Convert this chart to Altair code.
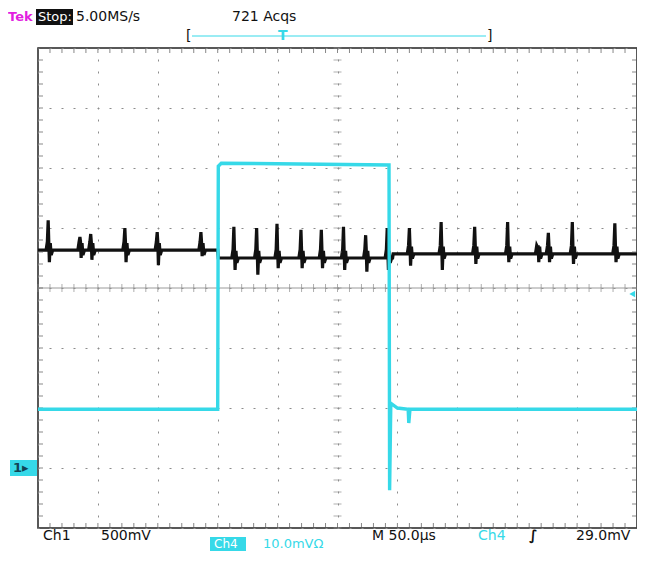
import altair as alt
import pandas as pd

# ---------------- data (screen divisions: x 0..10 div at 50 us/div, y -4..4 div) -------------
# Ch1 (black) spikes
spike_x = [0.17, 0.70, 0.88, 1.45, 1.99, 2.72, 3.27, 3.65, 3.99, 4.39, 4.73,
           5.10, 5.47, 5.83, 6.20, 6.73, 7.29, 7.84, 8.34, 8.52, 8.92, 9.63]
spike_top = [1.13, 0.85, 0.90, 1.00, 0.93, 0.93, 1.02, 1.00, 1.07, 0.97, 0.97,
             1.02, 0.88, 1.00, 1.00, 1.10, 1.02, 1.10, 0.68, 0.92, 1.10, 1.08]
spike_dip = [0.43, 0.50, 0.47, 0.43, 0.38, 0.53, 0.30, 0.22, 0.33, 0.33, 0.33,
             0.30, 0.27, 0.30, 0.37, 0.30, 0.40, 0.43, 0.43, 0.43, 0.40, 0.43]
base_start = [0.0, 3.01, 5.93]
base_end = [3.0, 5.92, 10.0]
base_level = [0.63, 0.50, 0.57]

# Ch4 (cyan) waveform corners
cyan_x = [0.0, 3.00, 3.01, 3.06, 5.86, 5.87, 5.89, 6.00, 6.18, 6.19, 6.21, 10.0]
cyan_y = [-2.02, -2.02, 2.03, 2.08, 2.05, -3.37, -1.92, -2.00, -2.02, -2.25, -2.02, -2.02]

trig_level = [-0.10]   # Ch4 trigger level marker (div)
gnd_level = [-3.0]     # ground marker (div)

minor_x = [round(0.2 * k, 2) for k in range(51)]
minor_y = [round(-4 + 0.2 * k, 2) for k in range(41)]

# ---------------- build tables ----------------
def base_at(x):
    lvl = base_level[0]
    for s, l in zip(base_start, base_level):
        if x >= s:
            lvl = l
    return lvl

pts = []
for s, e, l in zip(base_start, base_end, base_level):
    pts += [(s, l), (e, l)]
for s, t, d in zip(spike_x, spike_top, spike_dip):
    b = base_at(s)
    pts += [(s - 0.035, b), (s - 0.014, b + 0.14), (s, t), (s + 0.01, b + 0.14),
            (s + 0.02, d), (s + 0.035, b + 0.12), (s + 0.05, b - 0.08), (s + 0.075, b)]
pts.sort()
ch1 = pd.DataFrame({"x": [p[0] for p in pts], "y": [p[1] for p in pts], "i": range(len(pts))})
ch4 = pd.DataFrame({"x": cyan_x, "y": cyan_y, "i": range(len(cyan_x))})

W, H = 599, 480
FONT = "DejaVu Sans"
CYAN = "#36d9e8"
GRID = "#8c8c8c"

xs = alt.Scale(domain=[0, 10], nice=False, zero=False)
ys = alt.Scale(domain=[-4, 4], nice=False, zero=False)
ax_x = alt.Axis(values=list(range(11)), grid=True, gridDash=[2, 10], gridDashOffset=1,
                gridColor=GRID, labels=False, ticks=False, domain=False, title=None)
ax_y = alt.Axis(values=list(range(-4, 5)), grid=True, gridDash=[2, 10], gridDashOffset=1,
                gridColor=GRID, labels=False, ticks=False, domain=False, title=None)

black = alt.Chart(ch1).mark_line(color="#111111", strokeWidth=3.2, clip=True,
                                 strokeJoin="miter").encode(
    x=alt.X("x:Q", scale=xs, axis=ax_x),
    y=alt.Y("y:Q", scale=ys, axis=ax_y),
    order="i:Q",
)
cyan = alt.Chart(ch4).mark_line(color=CYAN, strokeWidth=3.4, clip=True).encode(
    x="x:Q", y="y:Q", order="i:Q"
)

one = pd.DataFrame({"v": [0]})
hcenter = alt.Chart(one).mark_rule(color="#9a9a9a", strokeWidth=1).encode(y=alt.datum(0))

mx = pd.DataFrame({"x": minor_x})
my = pd.DataFrame({"y": minor_y})
tick_h = alt.Chart(mx).mark_tick(orient="vertical", size=8, thickness=1, color=GRID).encode(
    x="x:Q", y=alt.datum(0))
tick_v = alt.Chart(my).mark_tick(orient="horizontal", size=8, thickness=1, color=GRID).encode(
    y="y:Q", x=alt.datum(5))
b_top = alt.Chart(mx).mark_tick(orient="vertical", size=10, thickness=1, color="#555", clip=True).encode(
    x="x:Q", y=alt.datum(4))
b_bot = alt.Chart(mx).mark_tick(orient="vertical", size=10, thickness=1, color="#555", clip=True).encode(
    x="x:Q", y=alt.datum(-4))
b_left = alt.Chart(my).mark_tick(orient="horizontal", size=10, thickness=1, color="#555", clip=True).encode(
    y="y:Q", x=alt.datum(0))
b_right = alt.Chart(my).mark_tick(orient="horizontal", size=10, thickness=1, color="#555", clip=True).encode(
    y="y:Q", x=alt.datum(10))

trig = alt.Chart(pd.DataFrame({"y": trig_level})).mark_point(
    shape="triangle-left", filled=True, size=45, color=CYAN, opacity=1).encode(
    y="y:Q", x=alt.datum(9.92))

def txt(s, x, y, color="#111111", size=14, weight="normal", align="left"):
    return alt.Chart(one).mark_text(text=s, align=align, baseline="middle", font=FONT,
                                    fontSize=size, fontWeight=weight, color=color).encode(
        x=alt.value(x), y=alt.value(y))

def box(x1, x2, y1, y2, color):
    return alt.Chart(one).mark_rect(color=color).encode(
        x=alt.value(x1), x2=alt.value(x2), y=alt.value(y1), y2=alt.value(y2))

gnd_y = H / 2 - gnd_level[0] * H / 8
HY = -31
texts = [
    txt("Tek", -30, HY, color="#e21fe0", size=13, weight="bold"),
    box(-2, 35, HY - 8, HY + 8, "#111111"),
    txt("Stop:", 0, HY, color="#ffffff", size=13),
    txt("5.00MS/s", 38, HY),
    txt("721 Acqs", 194, HY),
    alt.Chart(one).mark_rule(color=CYAN, strokeWidth=1).encode(
        x=alt.value(154), x2=alt.value(448), y=alt.value(-12)),
    txt("[", 148, -12),
    txt("]", 449, -12),
    txt("T", 240, -12, color=CYAN, weight="bold"),
    txt("Ch1", 5, 488),
    txt("500mV", 63, 488),
    txt("M 50.0µs", 334, 488),
    txt("Ch4", 440, 488, color=CYAN),
    txt("∫", 491, 488, weight="bold"),
    txt("29.0mV", 538, 488),
    box(172, 208, 489, 503, CYAN),
    txt("Ch4", 176, 496, color="#ffffff", size=12),
    txt("10.0mVΩ", 225, 496, color=CYAN, size=13),
    box(-28, -1, gnd_y - 8, gnd_y + 8, CYAN),
    txt("1▸", -25, gnd_y, color="#114455", size=13, weight="bold"),
]

chart = alt.layer(
    black, hcenter, tick_h, tick_v, b_top, b_bot, b_left, b_right, cyan, trig, *texts
).properties(
    width=W, height=H, autosize="none",
    padding={"left": 30, "top": 40, "right": 0, "bottom": 24},
    background="white",
).configure_view(stroke="#222222", strokeWidth=1.5)

chart.save("out.html", embed_options={"renderer": "svg", "actions": False})
